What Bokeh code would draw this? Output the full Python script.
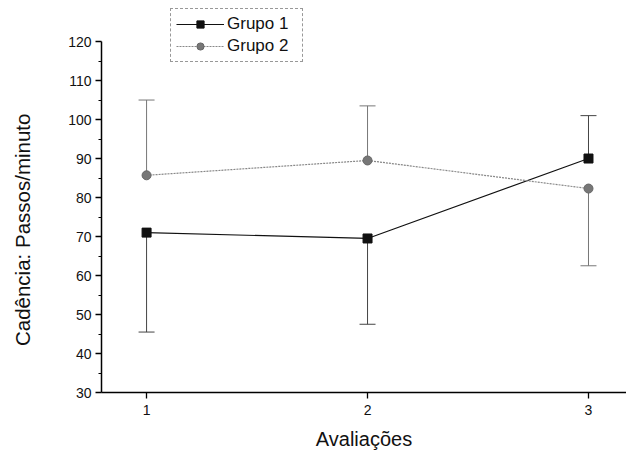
from bokeh.plotting import figure
from bokeh.models import Range1d, FixedTicker, Legend, LegendItem
from bokeh.embed import file_html
from bokeh.resources import INLINE

# Data
avaliacoes = [1, 2, 3]
grupo1 = [71.0, 69.5, 90.0]
grupo1_err_end = [45.5, 47.5, 101.0]
grupo2 = [85.7, 89.5, 82.3]
grupo2_err_end = [105.0, 103.5, 62.5]
y_ticks = [30, 40, 50, 60, 70, 80, 90, 100, 110, 120]
y_minor = [35, 45, 55, 65, 75, 85, 95, 105, 115]
x_ticks = [1, 2, 3]

FONT = "Liberation Sans"

p = figure(width=626, height=452, output_backend="svg", toolbar_location=None,
           x_range=Range1d(0.796, 3.172), y_range=Range1d(30, 129.5),
           min_border_left=101, min_border_top=4, min_border_bottom=60, min_border_right=0)
p.background_fill_color = "white"
p.border_fill_color = "white"
p.outline_line_color = None
p.grid.visible = False

# error bars
p.segment(x0=avaliacoes, y0=grupo1, x1=avaliacoes, y1=grupo1_err_end, line_color="#444444", line_width=1)
p.scatter(x=avaliacoes, y=grupo1_err_end, marker="dash", size=16, line_color="#444444", line_width=1)
p.segment(x0=avaliacoes, y0=grupo2, x1=avaliacoes, y1=grupo2_err_end, line_color="#777777", line_width=1)
p.scatter(x=avaliacoes, y=grupo2_err_end, marker="dash", size=16, line_color="#777777", line_width=1)

l1 = p.line(avaliacoes, grupo1, line_color="#111111", line_width=1.2)
m1 = p.scatter(avaliacoes, grupo1, marker="square", size=9, fill_color="#111111", line_color="#111111")
l2 = p.line(avaliacoes, grupo2, line_color="#888888", line_width=1.2, line_dash="2 1")
m2 = p.scatter(avaliacoes, grupo2, marker="circle", size=9, fill_color="#777777", line_color="#666666")

legend = Legend(items=[LegendItem(label="Grupo 1", renderers=[l1, m1]),
                       LegendItem(label="Grupo 2", renderers=[l2, m2])],
                location=(69, 330), glyph_width=48, glyph_height=18, label_width=70,
                label_text_font=FONT, label_text_font_size="17px", label_text_color="#111111",
                border_line_color="#333333", border_line_width=1, border_line_dash="1 1",
                padding=5, spacing=2, label_standoff=3, margin=0,
                background_fill_color="white", background_fill_alpha=1)
p.add_layout(legend, "center")

# axes
p.xaxis.ticker = FixedTicker(ticks=x_ticks)
p.yaxis.ticker = FixedTicker(ticks=y_ticks, minor_ticks=y_minor)
p.yaxis.bounds = (30, 120)
for ax in (p.xaxis, p.yaxis):
    ax.axis_line_color = "black"
    ax.axis_line_width = 1.5
    ax.major_tick_line_color = "black"
    ax.major_tick_line_width = 1.3
    ax.major_tick_out = 6
    ax.major_tick_in = 0
    ax.major_label_text_font = FONT
    ax.major_label_text_font_size = "14px"
    ax.major_label_text_color = "#111111"
    ax.axis_label_text_font = FONT
    ax.axis_label_text_font_style = "normal"
    ax.axis_label_text_color = "#111111"
p.xaxis.axis_label_text_font_size = "20px"
p.yaxis.axis_label_text_font_size = "20.5px"
p.xaxis.minor_tick_line_color = None
p.yaxis.minor_tick_line_color = "black"
p.yaxis.minor_tick_out = 3
p.yaxis.minor_tick_in = 0
p.xaxis.axis_label = "Avaliações"
p.xaxis.major_label_standoff = 6
p.xaxis.axis_label_standoff = 10
p.yaxis.major_label_standoff = 4
# trailing non-breaking spaces shift the centred label down, as in the original
p.yaxis.axis_label = "Cadência: Passos/minuto" + "\u00a0" * 11
p.yaxis.axis_label_standoff = 31

open("out.html", "w").write(file_html(p, INLINE))
